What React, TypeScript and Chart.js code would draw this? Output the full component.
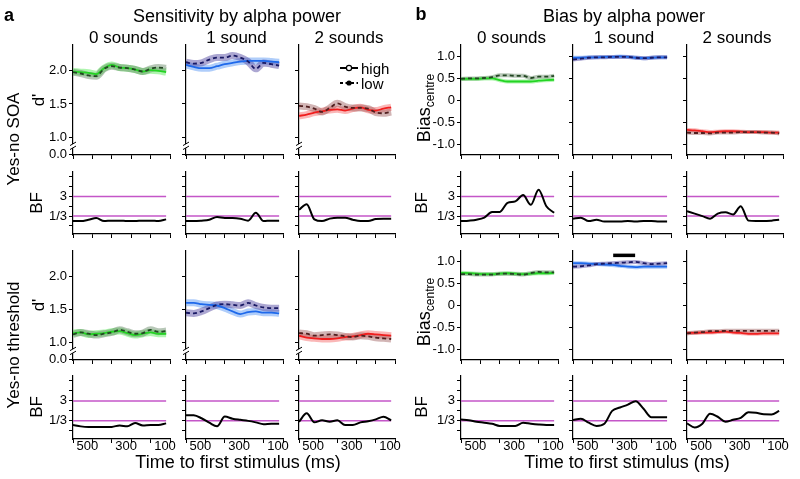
import React, { useEffect, useRef } from "react";
import { Chart, registerables } from "chart.js";

Chart.register(...registerables);

const FONT = '"Liberation Sans", Arial, Helvetica, sans-serif';
Chart.defaults.font.family = FONT;
Chart.defaults.font.size = 13;
Chart.defaults.color = "#000";

// ---------------- data ----------------
const TIME = [600, 560, 520, 480, 440, 400, 360, 320, 280, 240, 200, 160, 120];
const X_TICKS = [600, 500, 400, 300, 200, 100];
const X_LABELED = [500, 300, 100];
const DPRIME_TICKS = [0.745, 1.0, 1.5, 2.0];
const DPRIME_LABELS = ["0.0", "1.0", "1.5", "2.0"];
const BIAS_TICKS = [-1, -0.5, 0, 0.5, 1];
const BIAS_LABELS = ["-1.0", "-0.5", "0", "0.5", "1.0"];
const BF_TICKS = [1 / 9, 1 / 3, 1, 3, 9, 27];
const BF_LABELS = ["", "1/3", "", "3", "", ""];
const BF_REF = [3, 1 / 3];
const CONDITIONS = ["0 sounds", "1 sound", "2 sounds"];

// a) Sensitivity (d'), Yes-no SOA
const SOA_D_0_HIGH = [1.99, 1.98, 1.97, 1.95, 2.04, 2.09, 2.05, 2.04, 2.02, 1.99, 2.01, 2.0, 1.98];
const SOA_D_0_LOW = [1.98, 1.96, 1.93, 1.92, 2.03, 2.07, 2.05, 2.04, 2.02, 1.99, 2.03, 2.05, 2.04];
const SOA_D_1_HIGH = [2.09, 2.06, 2.04, 2.04, 2.07, 2.1, 2.12, 2.14, 2.15, 2.15, 2.15, 2.14, 2.13];
const SOA_D_1_LOW = [2.13, 2.11, 2.12, 2.17, 2.2, 2.2, 2.23, 2.2, 2.14, 2.03, 2.12, 2.1, 2.08];
const SOA_D_2_HIGH = [1.32, 1.34, 1.37, 1.39, 1.41, 1.42, 1.4, 1.43, 1.45, 1.41, 1.4, 1.43, 1.45];
const SOA_D_2_LOW = [1.47, 1.46, 1.43, 1.38, 1.44, 1.51, 1.46, 1.44, 1.44, 1.43, 1.37, 1.36, 1.38];
// a) Yes-no threshold
const THR_D_0_HIGH = [1.14, 1.15, 1.12, 1.13, 1.14, 1.16, 1.17, 1.14, 1.11, 1.13, 1.15, 1.13, 1.13];
const THR_D_0_LOW = [1.12, 1.15, 1.13, 1.11, 1.13, 1.15, 1.19, 1.16, 1.13, 1.14, 1.19, 1.16, 1.17];
const THR_D_1_HIGH = [1.6, 1.6, 1.58, 1.57, 1.56, 1.52, 1.47, 1.43, 1.46, 1.47, 1.45, 1.45, 1.44];
const THR_D_1_LOW = [1.45, 1.44, 1.47, 1.52, 1.57, 1.58, 1.57, 1.56, 1.6, 1.56, 1.53, 1.52, 1.52];
const THR_D_2_HIGH = [1.1, 1.07, 1.06, 1.05, 1.05, 1.06, 1.08, 1.09, 1.11, 1.13, 1.12, 1.11, 1.1];
const THR_D_2_LOW = [1.14, 1.13, 1.1, 1.11, 1.12, 1.11, 1.09, 1.08, 1.1, 1.09, 1.07, 1.06, 1.05];
// a) Bayes factors
const SOA_D_BF_0 = [0.19, 0.19, 0.22, 0.27, 0.19, 0.2, 0.2, 0.19, 0.19, 0.2, 0.2, 0.19, 0.23];
const SOA_D_BF_1 = [0.19, 0.19, 0.2, 0.22, 0.3, 0.27, 0.27, 0.25, 0.2, 0.48, 0.19, 0.2, 0.2];
const SOA_D_BF_2 = [0.68, 1.27, 0.23, 0.19, 0.25, 0.28, 0.28, 0.22, 0.19, 0.19, 0.24, 0.25, 0.25];
const THR_D_BF_0 = [0.21, 0.18, 0.17, 0.17, 0.17, 0.17, 0.2, 0.18, 0.26, 0.2, 0.21, 0.21, 0.25];
const THR_D_BF_1 = [0.62, 0.61, 0.44, 0.27, 0.18, 0.53, 0.42, 0.37, 0.33, 0.28, 0.23, 0.24, 0.24];
const THR_D_BF_2 = [0.3, 0.76, 0.28, 0.35, 0.3, 0.35, 0.21, 0.21, 0.28, 0.32, 0.39, 0.52, 0.35];

// b) Bias, Yes-no SOA
const SOA_B_0_HIGH = [0.48, 0.48, 0.48, 0.49, 0.49, 0.45, 0.42, 0.42, 0.42, 0.42, 0.44, 0.45, 0.46];
const SOA_B_0_LOW = [0.48, 0.49, 0.49, 0.5, 0.52, 0.56, 0.56, 0.55, 0.55, 0.5, 0.53, 0.53, 0.55];
const SOA_B_1_HIGH = [0.96, 0.96, 0.97, 0.97, 0.98, 0.98, 0.99, 0.98, 0.96, 0.95, 0.96, 0.97, 0.97];
const SOA_B_1_LOW = [0.92, 0.94, 0.96, 0.97, 0.97, 0.98, 0.98, 0.98, 0.96, 0.95, 0.96, 0.97, 0.97];
const SOA_B_2_HIGH = [-0.68, -0.69, -0.71, -0.73, -0.72, -0.71, -0.71, -0.72, -0.73, -0.73, -0.73, -0.74, -0.74];
const SOA_B_2_LOW = [-0.74, -0.75, -0.75, -0.76, -0.74, -0.74, -0.74, -0.73, -0.73, -0.73, -0.74, -0.74, -0.76];
// b) Yes-no threshold
const THR_B_0_HIGH = [0.75, 0.74, 0.73, 0.72, 0.72, 0.73, 0.74, 0.73, 0.72, 0.73, 0.74, 0.74, 0.75];
const THR_B_0_LOW = [0.72, 0.72, 0.71, 0.71, 0.71, 0.73, 0.73, 0.72, 0.71, 0.74, 0.77, 0.76, 0.76];
const THR_B_1_HIGH = [0.97, 0.97, 0.96, 0.95, 0.94, 0.93, 0.91, 0.89, 0.88, 0.89, 0.89, 0.89, 0.89];
const THR_B_1_LOW = [0.89, 0.9, 0.92, 0.95, 0.96, 0.97, 0.98, 0.99, 1.0, 0.97, 0.95, 0.96, 0.97];
const THR_B_2_HIGH = [-0.63, -0.63, -0.62, -0.62, -0.61, -0.6, -0.62, -0.63, -0.65, -0.65, -0.64, -0.64, -0.64];
const THR_B_2_LOW = [-0.64, -0.62, -0.61, -0.59, -0.59, -0.58, -0.58, -0.58, -0.58, -0.58, -0.58, -0.58, -0.58];
// b) Bayes factors
const SOA_B_BF_0 = [0.19, 0.2, 0.22, 0.28, 0.52, 0.53, 1.47, 1.73, 3.54, 1.18, 6.47, 1.0, 0.48];
const SOA_B_BF_1 = [0.25, 0.28, 0.19, 0.22, 0.18, 0.18, 0.18, 0.19, 0.18, 0.19, 0.19, 0.18, 0.18];
const SOA_B_BF_2 = [0.58, 0.44, 0.33, 0.25, 0.44, 0.51, 0.4, 1.0, 0.2, 0.19, 0.19, 0.2, 0.22];
const THR_B_BF_0 = [0.38, 0.35, 0.3, 0.27, 0.24, 0.19, 0.19, 0.19, 0.27, 0.24, 0.22, 0.21, 0.21];
const THR_B_BF_1 = [0.36, 0.42, 0.27, 0.19, 0.24, 1.0, 1.44, 2.0, 2.9, 1.25, 0.49, 0.49, 0.49];
const THR_B_BF_2 = [0.25, 0.16, 0.24, 0.72, 0.52, 0.3, 0.37, 0.46, 0.85, 0.8, 0.68, 0.67, 1.0];

// significance bar (b, threshold, 1 sound)
const SIG_TIME = [395, 283];
const SIG_LEVEL = 1.15;

// ---------------- layout & style ----------------
const W = 800;
const H = 479;
const COLS_A = [[73, 170], [186, 283], [299, 395]];
const COLS_B = [[461, 558], [573, 671], [687, 783]];
const ROWS = [[45, 155], [172, 234], [251, 360], [376, 439]];
const Y_AXIS_W = 40;
const X_AXIS_H = 22;
const D_MIN = 0.73;
const D_MAX = 2.39;
const BREAK_AT = 0.865;
const B_MIN = -1.25;
const B_MAX = 1.25;
const BF_MIN = Math.pow(3, -2.83);
const BF_MAX = Math.pow(3, 3.5);

const PALETTE = [
  { hi: "rgb(35,212,35)", hiBand: "rgba(95,235,95,0.5)", lo: "rgb(35,70,35)", loBand: "rgba(95,130,95,0.45)" },
  { hi: "rgb(30,105,235)", hiBand: "rgba(95,155,245,0.5)", lo: "rgb(25,25,100)", loBand: "rgba(90,80,165,0.5)" },
  { hi: "rgb(240,30,30)", hiBand: "rgba(245,95,95,0.45)", lo: "rgb(80,30,30)", loBand: "rgba(155,90,90,0.45)" },
];
const MAGENTA = "rgb(196,86,200)";

type Kind = "dprime" | "bias" | "bf";
interface Spec {
  col: number[];
  row: number[];
  kind: Kind;
  cond: number;
  high?: number[];
  low?: number[];
  bf?: number[];
  yLabels: boolean;
  xLabels: boolean;
  legend?: boolean;
  sig?: boolean;
}

const pts = (vals: number[]) => TIME.map((t, i) => ({ x: t, y: vals[i] }));

const breakPlugin = {
  id: "axisBreak",
  afterDraw(chart: any) {
    const ctx = chart.ctx;
    const x = chart.chartArea.left;
    const y = chart.scales.y.getPixelForValue(BREAK_AT);
    ctx.save();
    ctx.fillStyle = "#fff";
    ctx.fillRect(x - 1.5, y - 2, 3, 4);
    ctx.strokeStyle = "#000";
    ctx.lineWidth = 1;
    ctx.beginPath();
    ctx.moveTo(x - 3, y - 0.5);
    ctx.lineTo(x + 3, y - 4);
    ctx.moveTo(x - 3, y + 3.5);
    ctx.lineTo(x + 3, y);
    ctx.stroke();
    ctx.restore();
  },
};

const legendPlugin = {
  id: "legendMarks",
  afterDraw(chart: any) {
    const ctx = chart.ctx;
    const { left, top } = chart.chartArea;
    const x0 = left + 41;
    const x1 = left + 59;
    const cx = left + 50;
    const yh = top + 23;
    const yl = top + 38;
    ctx.save();
    ctx.strokeStyle = "#000";
    ctx.lineWidth = 2;
    ctx.beginPath();
    ctx.moveTo(x0, yh);
    ctx.lineTo(x1, yh);
    ctx.stroke();
    ctx.beginPath();
    ctx.arc(cx, yh, 2.6, 0, Math.PI * 2);
    ctx.fillStyle = "#fff";
    ctx.fill();
    ctx.lineWidth = 1.2;
    ctx.stroke();
    ctx.setLineDash([3, 2.5]);
    ctx.lineWidth = 2;
    ctx.beginPath();
    ctx.moveTo(x0, yl);
    ctx.lineTo(x1, yl);
    ctx.stroke();
    ctx.setLineDash([]);
    ctx.beginPath();
    ctx.arc(cx, yl, 2.6, 0, Math.PI * 2);
    ctx.fillStyle = "#000";
    ctx.fill();
    ctx.restore();
  },
};

function buildConfig(s: Spec): any {
  const [x0, x1] = s.col;
  const [y0, y1] = s.row;
  const pal = PALETTE[s.cond];
  const datasets: any[] = [];
  const base = { pointRadius: 0, fill: false, cubicInterpolationMode: "monotone", tension: 0.4 };
  if (s.kind === "bf") {
    datasets.push({ ...base, data: pts(s.bf!), borderColor: "#000", borderWidth: 2, order: 1 });
    BF_REF.forEach((r) =>
      datasets.push({
        ...base,
        data: [{ x: TIME[0], y: r }, { x: TIME[TIME.length - 1], y: r }],
        borderColor: MAGENTA,
        borderWidth: 1.5,
        order: 3,
      })
    );
  } else {
    const bandW = s.kind === "dprime" ? 7 : 4;
    datasets.push({ ...base, data: pts(s.low!), borderColor: pal.lo, borderWidth: 1.8, borderDash: [4, 3], order: 1 });
    datasets.push({ ...base, data: pts(s.high!), borderColor: pal.hi, borderWidth: 1.8, order: 1 });
    datasets.push({ ...base, data: pts(s.low!), borderColor: pal.loBand, borderWidth: bandW, order: 2 });
    datasets.push({ ...base, data: pts(s.high!), borderColor: pal.hiBand, borderWidth: bandW, order: 2 });
    if (s.sig) {
      datasets.push({
        ...base,
        data: SIG_TIME.map((t) => ({ x: t, y: SIG_LEVEL })),
        borderColor: "#000",
        borderWidth: 3.5,
        order: 0,
      });
    }
  }

  const axisCommon = {
    grid: { drawOnChartArea: false, drawTicks: true, tickLength: 4, color: "#000", lineWidth: 1 },
    border: { display: true, color: "#000", width: 1.2 },
  };

  let yScale: any;
  if (s.kind === "dprime") {
    yScale = {
      type: "linear",
      min: D_MIN,
      max: D_MAX,
      afterBuildTicks: (a: any) => { a.ticks = DPRIME_TICKS.map((v) => ({ value: v })); },
      ticks: { padding: 2, autoSkip: false, callback: (_v: any, i: number) => (s.yLabels ? DPRIME_LABELS[i] : "") },
    };
  } else if (s.kind === "bias") {
    yScale = {
      type: "linear",
      min: B_MIN,
      max: B_MAX,
      afterBuildTicks: (a: any) => { a.ticks = BIAS_TICKS.map((v) => ({ value: v })); },
      ticks: { padding: 2, autoSkip: false, callback: (_v: any, i: number) => (s.yLabels ? BIAS_LABELS[i] : "") },
    };
  } else {
    yScale = {
      type: "logarithmic",
      min: BF_MIN,
      max: BF_MAX,
      afterBuildTicks: (a: any) => { a.ticks = BF_TICKS.map((v) => ({ value: v })); },
      ticks: { padding: 2, autoSkip: false, callback: (_v: any, i: number) => (s.yLabels ? BF_LABELS[i] : "") },
    };
  }
  yScale = { ...yScale, ...axisCommon, position: "left", afterFit: (a: any) => { a.width = Y_AXIS_W; } };

  const xScale = {
    type: "linear",
    min: 100,
    max: 600,
    reverse: true,
    position: "bottom",
    ...axisCommon,
    afterBuildTicks: (a: any) => { a.ticks = X_TICKS.map((v) => ({ value: v })); },
    ticks: {
      autoSkip: false,
      maxRotation: 0,
      padding: -4,
      labelOffset: -5,
      callback: (_v: any, i: number) =>
        s.xLabels && X_LABELED.includes(X_TICKS[i]) ? String(X_TICKS[i]) : "",
    },
    afterFit: (a: any) => { a.height = X_AXIS_H; },
  };

  const plugins: any[] = [];
  if (s.kind === "dprime") plugins.push(breakPlugin);
  if (s.legend) plugins.push(legendPlugin);

  return {
    type: "line",
    data: { datasets },
    options: {
      responsive: false,
      maintainAspectRatio: false,
      animation: false,
      events: [],
      layout: { padding: { left: x0 - Y_AXIS_W, top: y0, right: W - x1, bottom: H - y1 - X_AXIS_H } },
      plugins: { legend: { display: false }, tooltip: { enabled: false } },
      scales: { x: xScale, y: yScale },
    },
    plugins,
  };
}

// ---------------- panel specs ----------------
const A_MEANS = [
  [SOA_D_0_HIGH, SOA_D_0_LOW, SOA_D_1_HIGH, SOA_D_1_LOW, SOA_D_2_HIGH, SOA_D_2_LOW],
  [THR_D_0_HIGH, THR_D_0_LOW, THR_D_1_HIGH, THR_D_1_LOW, THR_D_2_HIGH, THR_D_2_LOW],
];
const A_BF = [[SOA_D_BF_0, SOA_D_BF_1, SOA_D_BF_2], [THR_D_BF_0, THR_D_BF_1, THR_D_BF_2]];
const B_MEANS = [
  [SOA_B_0_HIGH, SOA_B_0_LOW, SOA_B_1_HIGH, SOA_B_1_LOW, SOA_B_2_HIGH, SOA_B_2_LOW],
  [THR_B_0_HIGH, THR_B_0_LOW, THR_B_1_HIGH, THR_B_1_LOW, THR_B_2_HIGH, THR_B_2_LOW],
];
const B_BF = [[SOA_B_BF_0, SOA_B_BF_1, SOA_B_BF_2], [THR_B_BF_0, THR_B_BF_1, THR_B_BF_2]];

const SPECS: Spec[] = [];
for (let task = 0; task < 2; task++) {
  for (let c = 0; c < 3; c++) {
    SPECS.push({
      col: COLS_A[c], row: ROWS[task * 2], kind: "dprime", cond: c,
      high: A_MEANS[task][c * 2], low: A_MEANS[task][c * 2 + 1],
      yLabels: c === 0, xLabels: false, legend: task === 0 && c === 2,
    });
    SPECS.push({
      col: COLS_A[c], row: ROWS[task * 2 + 1], kind: "bf", cond: c, bf: A_BF[task][c],
      yLabels: c === 0, xLabels: task === 1,
    });
    SPECS.push({
      col: COLS_B[c], row: ROWS[task * 2], kind: "bias", cond: c,
      high: B_MEANS[task][c * 2], low: B_MEANS[task][c * 2 + 1],
      yLabels: c === 0, xLabels: false, sig: task === 1 && c === 1,
    });
    SPECS.push({
      col: COLS_B[c], row: ROWS[task * 2 + 1], kind: "bf", cond: c, bf: B_BF[task][c],
      yLabels: c === 0, xLabels: task === 1,
    });
  }
}

function Panel({ spec }: { spec: Spec }) {
  const ref = useRef<HTMLCanvasElement>(null);
  useEffect(() => {
    const chart = new Chart(ref.current as HTMLCanvasElement, buildConfig(spec));
    return () => chart.destroy();
  }, [spec]);
  return (
    <canvas
      ref={ref}
      width={W}
      height={H}
      style={{ position: "absolute", left: 0, top: 0, width: W, height: H }}
    />
  );
}

function Label(props: {
  x: number; y: number; size?: number; bold?: boolean; rot?: boolean; left?: boolean; children: any;
}) {
  const { x, y, size = 17, bold = false, rot = false, left = false, children } = props;
  const tr = left ? "translate(0,-50%)" : "translate(-50%,-50%)";
  return (
    <div
      style={{
        position: "absolute",
        left: x,
        top: y,
        transform: tr + (rot ? " rotate(-90deg)" : ""),
        fontSize: size,
        fontWeight: bold ? "bold" : "normal",
        lineHeight: 1,
        whiteSpace: "nowrap",
        fontFamily: FONT,
        color: "#000",
      }}
    >
      {children}
    </div>
  );
}

const BiasLabel = () => (
  <span>
    Bias<span style={{ fontSize: 12, position: "relative", top: 4 }}>centre</span>
  </span>
);

export default function App() {
  const colCenters = (cols: number[][]) => cols.map((c) => (c[0] + c[1]) / 2 + 2);
  return (
    <div
      style={{
        position: "fixed",
        left: 0,
        top: 0,
        width: W,
        height: H,
        background: "#fff",
        overflow: "hidden",
      }}
    >
      {SPECS.map((s, i) => (
        <Panel key={i} spec={s} />
      ))}
      <Label x={9} y={15} size={18} bold>a</Label>
      <Label x={421} y={14} size={18} bold>b</Label>
      <Label x={237} y={16} size={18}>Sensitivity by alpha power</Label>
      <Label x={624} y={16} size={18}>Bias by alpha power</Label>
      {colCenters(COLS_A).map((cx, i) => (
        <Label key={"ta" + i} x={cx} y={37}>{CONDITIONS[i]}</Label>
      ))}
      {colCenters(COLS_B).map((cx, i) => (
        <Label key={"tb" + i} x={cx} y={37}>{CONDITIONS[i]}</Label>
      ))}
      <Label x={13} y={139} rot>Yes-no SOA</Label>
      <Label x={13} y={345} rot>Yes-no threshold</Label>
      <Label x={38} y={100} rot>d'</Label>
      <Label x={38} y={305} rot>d'</Label>
      <Label x={36} y={203} rot>BF</Label>
      <Label x={36} y={407} rot>BF</Label>
      <Label x={421} y={203} rot>BF</Label>
      <Label x={421} y={407} rot>BF</Label>
      <Label x={424} y={108} rot size={18}><BiasLabel /></Label>
      <Label x={424} y={312} rot size={18}><BiasLabel /></Label>
      <Label x={361} y={68} size={15} left>high</Label>
      <Label x={361} y={83} size={15} left>low</Label>
      <Label x={238} y={462} size={18}>Time to first stimulus (ms)</Label>
      <Label x={627} y={462} size={18}>Time to first stimulus (ms)</Label>
    </div>
  );
}
